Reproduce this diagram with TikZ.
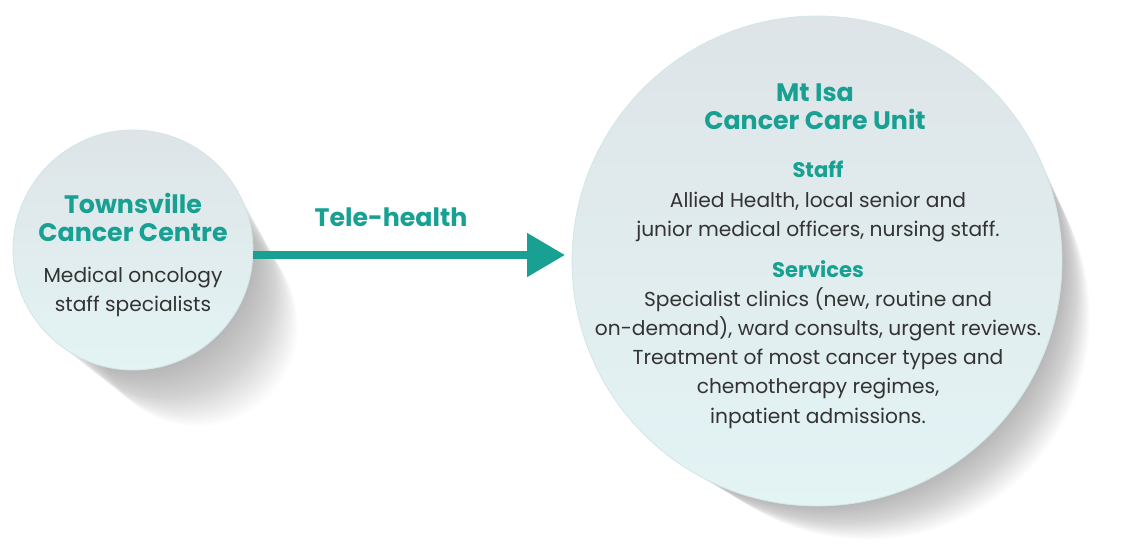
\documentclass[tikz,border=0pt]{standalone}
\usepackage{fontspec}
\setmainfont{Poppins}
\usetikzlibrary{positioning,arrows.meta,calc}

\begin{document}
\begin{tikzpicture}[x=0.02cm,y=-0.02cm,
  every node/.style={inner sep=0pt,align=center,text=bodytext},
  bubble/.style={circle,shading=axis,top color=bubtop,bottom color=bubbot,
    draw=bubrim,line width=0.5pt},
  head/.style={font=\fontsize{14.4}{16.2}\selectfont\bfseries,text=teal},
  sub/.style={font=\fontsize{12}{16.4}\selectfont\bfseries,text=teal},
  body/.style={font=\fontsize{11.5}{16.6}\selectfont}]

\definecolor{teal}{RGB}{24,160,146}
\definecolor{bodytext}{RGB}{51,51,51}
\definecolor{bubtop}{RGB}{222,228,231}
\definecolor{bubbot}{RGB}{227,244,245}
\definecolor{bubrim}{RGB}{212,230,232}

\useasboundingbox (0,0) rectangle (1121,553);

% ===================== SHADOWS =====================
\foreach \i in {1,...,28}{
  \fill[black,opacity=0.012] ($(133,250)+(\i*2.3,\i*2.7)$) circle[radius=2.4cm-\i*0.014cm];
  \fill[black,opacity=0.012] ($(817,261)+(\i*1.8,\i*2.0)$) circle[radius=4.9cm-\i*0.016cm];
}

% ===================== TOWNSVILLE =====================
\node[bubble,minimum size=4.8cm] (tv) at (133,250) {};
\node[head,anchor=base] (tvhead) at (133,242) {Townsville\\Cancer Centre};
\node[body,anchor=base] (tvbody) at (133,312) {Medical oncology\\staff specialists};

% ===================== MT ISA =====================
\node[bubble,minimum size=9.8cm] (mi) at (817,261) {};
\node[head,anchor=base] (mihead) at (815,130) {Mt Isa\\Cancer Care Unit};
\node[sub,anchor=base] (staff) at (818,178) {Staff};
\node[body,anchor=base] (staffbody) at (818,237) {Allied Health, local senior and\\junior medical officers, nursing staff.};
\node[sub,anchor=base] (serv) at (818,278) {Services};
\node[body,anchor=base] (servbody) at (818,423) {Specialist clinics (new, routine and\\on-demand), ward consults, urgent reviews.\\Treatment of most cancer types and\\chemotherapy regimes,\\inpatient admissions.};

% ===================== ARROW =====================
\coordinate (tip) at (565,255);
\draw[teal,line width=4.5pt,-{Triangle[length=21.5pt,width=23.8pt]}] (tv.east |- tip) -- (tip);
\node[head,anchor=base] (tele) at (391,227) {Tele-health};

\end{tikzpicture}
\end{document}
